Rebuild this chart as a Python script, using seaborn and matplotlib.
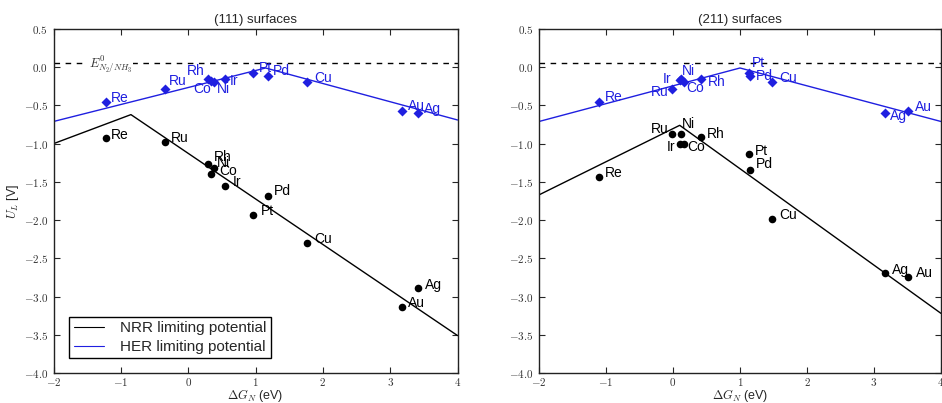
import matplotlib
matplotlib.use("Agg")
import matplotlib.pyplot as plt
import seaborn as sns
import pandas as pd
from matplotlib.ticker import FuncFormatter, MultipleLocator

# ---------------- data ----------------
metals_111 = ['Re', 'Ru', 'Rh', 'Co', 'Ni', 'Ir', 'Pt', 'Pd', 'Cu', 'Au', 'Ag']
dGN_111 = [-1.22, -0.34, 0.29, 0.34, 0.39, 0.54, 0.97, 1.19, 1.77, 3.17, 3.42]
UL_her_111 = [-0.45, -0.28, -0.16, -0.18, -0.19, -0.16, -0.08, -0.12, -0.19, -0.57, -0.60]
UL_nrr_111 = [-0.92, -0.98, -1.26, -1.40, -1.32, -1.55, -1.93, -1.69, -2.30, -3.14, -2.89]

metals_211 = ['Re', 'Ru', 'Ir', 'Ni', 'Co', 'Rh', 'Pt', 'Pd', 'Cu', 'Ag', 'Au']
dGN_211 = [-1.10, -0.01, 0.11, 0.12, 0.16, 0.42, 1.13, 1.15, 1.48, 3.17, 3.50]
UL_her_211 = [-0.45, -0.28, -0.17, -0.16, -0.19, -0.16, -0.07, -0.12, -0.19, -0.60, -0.57]
UL_nrr_211 = [-1.43, -0.87, -1.00, -0.87, -1.00, -0.91, -1.14, -1.35, -1.98, -2.69, -2.74]

# limiting-potential volcano lines (vertices)
line_x_nrr_111 = [-2.0, -0.85, 4.0]
line_y_nrr_111 = [-1.00, -0.62, -3.51]
line_x_her_111 = [-2.0, 1.15, 4.0]
line_y_her_111 = [-0.71, -0.01, -0.69]
line_x_nrr_211 = [-2.0, 0.10, 4.0]
line_y_nrr_211 = [-1.67, -0.76, -3.22]
line_x_her_211 = [-2.0, 1.00, 4.0]
line_y_her_211 = [-0.71, -0.01, -0.71]

E0_N2_NH3 = 0.05
titles = ['(111) surfaces', '(211) surfaces']

# label offsets in pixels (dx, dy up, ha)
off_her_111 = {'Re': (5, 4, 'left'), 'Ru': (4, 8, 'left'), 'Rh': (-3, 8, 'right'),
               'Co': (0, -8, 'right'), 'Ni': (2, -7, 'left'), 'Ir': (5, -2, 'left'),
               'Pt': (5, 5, 'left'), 'Pd': (5, 5, 'left'), 'Cu': (7, 4, 'left'),
               'Au': (6, 5, 'left'), 'Ag': (6, 4, 'left')}
off_nrr_111 = {'Re': (5, 3, 'left'), 'Ru': (6, 4, 'left'), 'Rh': (6, 7, 'left'),
               'Ni': (2, 5, 'left'), 'Co': (8, 3, 'left'), 'Ir': (8, 4, 'left'),
               'Pt': (7, 4, 'left'), 'Pd': (6, 5, 'left'), 'Cu': (7, 4, 'left'),
               'Au': (6, 4, 'left'), 'Ag': (7, 3, 'left')}
off_her_211 = {'Re': (6, 5, 'left'), 'Ru': (-4, -3, 'right'), 'Ir': (-9, 1, 'right'),
               'Ni': (1, 8, 'left'), 'Co': (3, -6, 'left'), 'Rh': (7, -3, 'left'),
               'Pt': (3, 10, 'left'), 'Pd': (6, 0, 'left'), 'Cu': (7, 4, 'left'),
               'Ag': (5, -3, 'left'), 'Au': (7, 4, 'left')}
off_nrr_211 = {'Re': (6, 4, 'left'), 'Ru': (-4, 5, 'right'), 'Ni': (1, 10, 'left'),
               'Ir': (-5, -3, 'right'), 'Co': (4, -3, 'left'), 'Rh': (6, 3, 'left'),
               'Pt': (6, 3, 'left'), 'Pd': (6, 6, 'left'), 'Cu': (7, 4, 'left'),
               'Ag': (7, 3, 'left'), 'Au': (8, 4, 'left')}

# ---------------- style ----------------
sns.set_theme(style='ticks')
plt.rcParams['font.family'] = ['Liberation Sans', 'DejaVu Sans']
plt.rcParams['mathtext.fontset'] = 'cm'
plt.rcParams['xtick.direction'] = 'in'
plt.rcParams['ytick.direction'] = 'in'
plt.rcParams['xtick.top'] = True
plt.rcParams['ytick.right'] = True

BLUE = '#1f1fe0'
fig = plt.figure(figsize=(9.42, 4.03), dpi=100)
ax1 = fig.add_axes([53.5 / 942, 1 - 373 / 403, 404 / 942, 344 / 403])
ax2 = fig.add_axes([539 / 942, 1 - 373 / 403, 402 / 942, 344 / 403])

fmt = FuncFormatter(lambda v, p: r'$%s$' % ('%.1f' % v))
fmt_x = FuncFormatter(lambda v, p: r'$%d$' % round(v))

panels = [
    (ax1, metals_111, dGN_111, UL_her_111, UL_nrr_111,
     (line_x_nrr_111, line_y_nrr_111), (line_x_her_111, line_y_her_111),
     off_her_111, off_nrr_111, titles[0]),
    (ax2, metals_211, dGN_211, UL_her_211, UL_nrr_211,
     (line_x_nrr_211, line_y_nrr_211), (line_x_her_211, line_y_her_211),
     off_her_211, off_nrr_211, titles[1]),
]

for i, (ax, metals, dgn, her, nrr, lnrr, lher, oher, onrr, title) in enumerate(panels):
    ax.axhline(E0_N2_NH3, color='black', ls=(0, (4, 4)), lw=1.0, zorder=1)
    sns.lineplot(x=lnrr[0], y=lnrr[1], ax=ax, color='black', lw=1.0,
                 label='NRR limiting potential' if i == 0 else None, zorder=2)
    sns.lineplot(x=lher[0], y=lher[1], ax=ax, color=BLUE, lw=1.0,
                 label='HER limiting potential' if i == 0 else None, zorder=2)
    df = pd.DataFrame({'metal': metals, 'dGN': dgn, 'her': her, 'nrr': nrr})
    sns.scatterplot(data=df, x='dGN', y='nrr', ax=ax, color='black', marker='o',
                    s=30, edgecolor='black', linewidth=0, zorder=3, legend=False)
    sns.scatterplot(data=df, x='dGN', y='her', ax=ax, color=BLUE, marker='D',
                    s=26, edgecolor=BLUE, linewidth=0, zorder=3, legend=False)
    for m, x, yh, yn in zip(metals, dgn, her, nrr):
        dx, dy, ha = oher[m]
        ax.annotate(m, (x, yh), xytext=(dx, dy), textcoords='offset pixels',
                    ha=ha, va='center', fontsize=10, color=BLUE, zorder=4)
        dx, dy, ha = onrr[m]
        ax.annotate(m, (x, yn), xytext=(dx, dy), textcoords='offset pixels',
                    ha=ha, va='center', fontsize=10, color='black', zorder=4)

    ax.set_xlim(-2, 4)
    ax.set_ylim(-4.0, 0.5)
    ax.xaxis.set_major_locator(MultipleLocator(1))
    ax.yaxis.set_major_locator(MultipleLocator(0.5))
    ax.yaxis.set_major_formatter(fmt)
    ax.xaxis.set_major_formatter(fmt_x)
    ax.tick_params(axis='both', which='major', labelsize=8, length=4, width=0.8,
                   labelcolor='#333333', pad=4)
    ax.tick_params(axis='x', pad=2.5)
    for sp in ax.spines.values():
        sp.set_visible(True)
        sp.set_linewidth(1.0)
        sp.set_color('#222222')
    ax.set_title(title, fontsize=9.5, pad=4)
    ax.set_xlabel(r'$\Delta G_N$ (eV)', fontsize=9, labelpad=-1)
    ax.set_ylabel('')

ax1.set_ylabel(r'$U_L$ [V]', fontsize=9, labelpad=2)
ax1.text(-1.48, E0_N2_NH3 - 0.005, r'$E^0_{N_2/NH_3}$', fontsize=9, color='#333333',
         va='center', ha='left', zorder=2,
         bbox=dict(facecolor='white', edgecolor='none', pad=1))

leg = ax1.legend(loc='lower left', bbox_to_anchor=(0.02, 0.02), fontsize=11,
                 frameon=True, fancybox=False, edgecolor='black', framealpha=1,
                 handlelength=2.0, handletextpad=1.0, borderpad=0.3,
                 labelspacing=0.3)
leg.get_frame().set_linewidth(1.0)
for ln in leg.get_lines():
    ln.set_linewidth(0.8)

fig.savefig('out.png', dpi=100)
